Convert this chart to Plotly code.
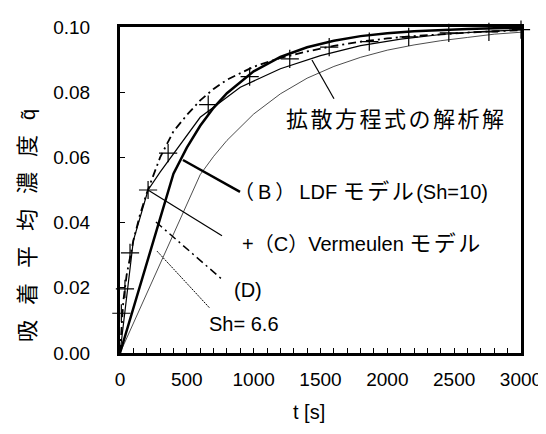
import plotly.graph_objects as go

# ---- data ----
# (B) LDF model, Sh=10 (thick solid)
ldf10_t = [0, 400, 500, 600, 700, 800, 1000, 1200, 1400, 1600, 1800, 2000, 2200, 2400, 2600, 2800, 3000]
ldf10_q = [0, 0.0550, 0.0630, 0.0697, 0.0752, 0.0797, 0.0864, 0.0908, 0.0938, 0.0958, 0.0972, 0.0981,
           0.0987, 0.0991, 0.0994, 0.0996, 0.0997]

# Sh = 6.6 (hairline)
ldf66_t = [0, 600, 700, 800, 1000, 1200, 1400, 1600, 1800, 2000, 2200, 2400, 2600, 2800, 3000]
ldf66_q = [0, 0.0547, 0.0603, 0.0652, 0.0733, 0.0795, 0.0843, 0.0879, 0.0907, 0.0929, 0.0945, 0.0958,
           0.0968, 0.0978, 0.0984]

# analytical solution of the diffusion equation (thin solid)
anal_t = [0, 100, 210, 300, 600, 900, 1200, 1500, 1800, 2100, 2400, 2700, 3000]
anal_q = [0, 0.0345, 0.0500, 0.0555, 0.0723, 0.0815, 0.0872, 0.0912, 0.0943, 0.0963, 0.0977, 0.0986, 0.0991]

# (D) (dash-dot)
d_t = [0, 25, 50, 100, 150, 200, 300, 400, 500, 600, 700, 800, 1000, 1200, 1400, 1600, 1800, 2000,
       2200, 2400, 2600, 2800, 3000]
d_q = [0, 0.016, 0.024, 0.0345, 0.0425, 0.049, 0.060, 0.068, 0.073, 0.0775, 0.081, 0.0838, 0.0878,
       0.0905, 0.0925, 0.0942, 0.0955, 0.0965, 0.0972, 0.0978, 0.0983, 0.0987, 0.099]

# (C) Vermeulen model (+ markers)
verm_t = [10, 37, 75, 210, 360, 660, 970, 1270, 1565, 1865, 2160, 2460, 2760, 3000]
verm_q = [0.0122, 0.0197, 0.0307, 0.0500, 0.0613, 0.0762, 0.0848, 0.0902, 0.0938, 0.0955, 0.0970,
          0.0982, 0.0985, 0.0992]

x_ticks = [0, 500, 1000, 1500, 2000, 2500, 3000]
y_ticks = [0.00, 0.02, 0.04, 0.06, 0.08, 0.10]

LAT = "Liberation Sans, Arial, Noto Sans CJK JP, sans-serif"

fig = go.Figure()
fig.add_trace(go.Scatter(x=ldf66_t, y=ldf66_q, mode="lines", line=dict(color="black", width=0.7)))
fig.add_trace(go.Scatter(x=anal_t, y=anal_q, mode="lines", line=dict(color="black", width=1.2)))
fig.add_trace(go.Scatter(x=d_t, y=d_q, mode="lines",
                         line=dict(color="black", width=1.8, dash="8px,4px,2px,4px")))
fig.add_trace(go.Scatter(x=ldf10_t, y=ldf10_q, mode="lines", line=dict(color="black", width=2.5)))
fig.add_trace(go.Scatter(x=verm_t, y=verm_q, mode="markers", cliponaxis=False,
                         marker=dict(symbol="cross-thin", size=13, color="black",
                                     line=dict(color="black", width=1.2))))

# pointer lines
def seg(x0, y0, x1, y1, width, dash="solid"):
    fig.add_shape(type="line", xref="x", yref="y", x0=x0, y0=y0, x1=x1, y1=y1,
                  line=dict(color="black", width=width, dash=dash))

seg(1436, 0.0899, 1601, 0.0780, 1.2)
seg(471, 0.0592, 898, 0.0494, 2.5)
seg(209, 0.0500, 763, 0.0360, 1.2)
seg(269, 0.0402, 763, 0.0226, 1.5, "8px,4px,2px,4px")
seg(277, 0.03125, 673, 0.0137, 1.0, "2px,1px")

def px2paper(px, py):
    return (px - 120) / 401.0, (353 - py) / 336.0

def label(px, py, text, size=20, anchor="left"):
    x, y = px2paper(px, py)
    fig.add_annotation(xref="paper", yref="paper", x=x, y=y, text=text, showarrow=False,
                       xanchor=anchor, yanchor="middle", font=dict(family=LAT, size=size, color="black"))

CJK = '<span style="font-size:22px;letter-spacing:2.5px">{}</span>'
FW = '<span style="font-size:20px">{}</span>'
label(284, 112, CJK.format("拡散方程式の解析解"))
label(232, 187, '<span style="letter-spacing:4px">' + FW.format("（") + "B" + FW.format("）")
      + "</span>LDF " + CJK.format("モデル") + "(Sh=10)")
label(240, 240, "+" + FW.format("（") + "C" + FW.format("）") + "Vermeulen " + CJK.format("モデル"))
label(232, 288, "(D)")
label(207, 323, "Sh= 6.6")

# axis titles
x, y = px2paper(309, 414)
fig.add_annotation(xref="paper", yref="paper", x=x, y=y, text="t [s]", showarrow=False,
                   xanchor="center", yanchor="middle", font=dict(family=LAT, size=20, color="black"))
x, y = px2paper(28, 222)
fig.add_annotation(xref="paper", yref="paper", x=x, y=y,
                   text='<span style="font-size:22px;letter-spacing:15px">吸着平均濃度</span>q\u0303',
                   textangle=-90, showarrow=False, xanchor="center", yanchor="middle",
                   font=dict(family=LAT, size=20, color="black"))

# page body has an 8px default margin: shift margins to land the plot on the reference pixels
fig.update_layout(
    width=546, height=434,
    margin=dict(l=112, r=33, t=9, b=89),
    paper_bgcolor="white", plot_bgcolor="white",
    showlegend=False,
)
fig.update_xaxes(range=[0, 3000], tickvals=x_ticks, ticktext=[str(v) for v in x_ticks],
                 ticks="inside", ticklen=5, tickwidth=1, tickcolor="black",
                 minor=dict(dtick=100, ticks="inside", ticklen=5, tickcolor="black", tickwidth=1),
                 showline=True, linewidth=3, linecolor="black", mirror=True,
                 showgrid=False, zeroline=False, ticklabelstandoff=7,
                 tickfont=dict(family=LAT, size=19, color="black"))
fig.update_yaxes(range=[0, 0.1], tickvals=y_ticks, ticktext=["%.2f" % v for v in y_ticks],
                 ticks="inside", ticklen=5, tickwidth=1, tickcolor="black",
                 showline=True, linewidth=3, linecolor="black", mirror=True,
                 showgrid=False, zeroline=False, ticklabelstandoff=23,
                 tickfont=dict(family=LAT, size=19, color="black"))

fig.write_html("out.html")
